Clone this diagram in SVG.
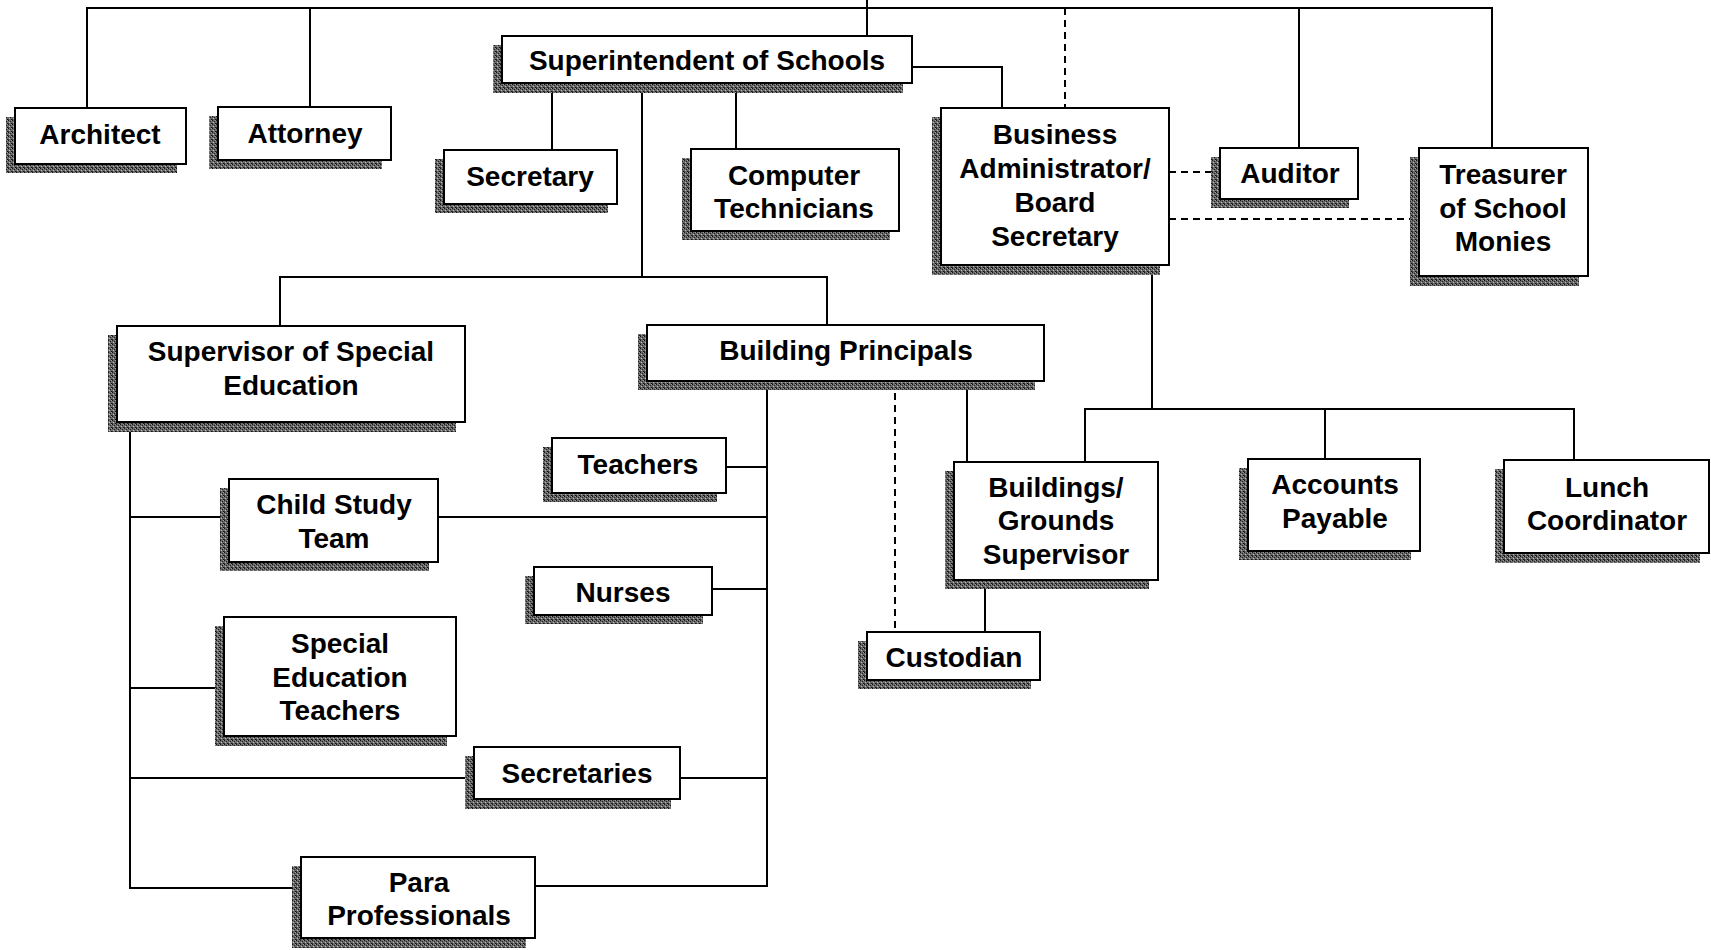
<svg xmlns="http://www.w3.org/2000/svg" width="1711" height="950" viewBox="0 0 1711 950">
  <defs>
    <!-- stippled grey used for the drop shadows behind each box -->
    <pattern id="grain" patternUnits="userSpaceOnUse" width="4" height="4">
      <rect width="4" height="4" fill="#6a6a6a"/>
      <rect x="0" y="0" width="1" height="1" fill="#111"/>
      <rect x="2" y="1" width="1" height="1" fill="#222"/>
      <rect x="1" y="2" width="1" height="1" fill="#bbb"/>
      <rect x="3" y="3" width="1" height="1" fill="#111"/>
      <rect x="3" y="0" width="1" height="1" fill="#999"/>
      <rect x="0" y="3" width="1" height="1" fill="#333"/>
    </pattern>
  </defs>
  <style>
    .wire { stroke: #000; stroke-width: 2; fill: none; }
    .dash { stroke-dasharray: 7 5; }
    .shadow { fill: url(#grain); }
    .box { fill: #fff; stroke: #000; stroke-width: 2; }
    .label { font-family: "Liberation Sans", Arial, sans-serif; font-weight: bold; font-size: 28px; text-anchor: middle; fill: #000; }
  </style>
  <rect width="1711" height="950" fill="#fff"/>

  <!-- reporting lines -->
  <g id="connectors">
    <path class="wire" d="M87 108 V8 H1492 V148"/>
    <path class="wire" d="M310 8 V107"/>
    <path class="wire" d="M867 0 V36"/>
    <path class="wire" d="M1299 8 V148"/>
    <path class="wire dash" d="M1065 8 V108"/>
    <path class="wire" d="M912 67 H1002 V108"/>
    <path class="wire" d="M552 83 V150"/>
    <path class="wire" d="M736 83 V149"/>
    <path class="wire" d="M642 83 V277"/>
    <path class="wire" d="M280 326 V277 H827 V325"/>
    <path class="wire dash" d="M1169 172 H1219"/>
    <path class="wire dash" d="M1169 219 H1412"/>
    <path class="wire" d="M1152 265 V409"/>
    <path class="wire" d="M1085 462 V409 H1574 V460"/>
    <path class="wire" d="M1325 409 V459"/>
    <path class="wire" d="M130 422 V888 H301"/>
    <path class="wire" d="M130 517 H229"/>
    <path class="wire" d="M438 517 H767"/>
    <path class="wire" d="M130 688 H224"/>
    <path class="wire" d="M130 778 H474"/>
    <path class="wire" d="M680 778 H767"/>
    <path class="wire" d="M535 886 H767 V381"/>
    <path class="wire" d="M726 467 H767"/>
    <path class="wire" d="M712 589 H767"/>
    <path class="wire" d="M967 381 V462"/>
    <path class="wire dash" d="M895 381 V632"/>
    <path class="wire" d="M985 580 V632"/>
  </g>

  <g id="architect">
    <rect class="shadow" x="6" y="117" width="171" height="56"/>
    <rect class="box" x="15" y="108" width="171" height="56"/>
    <text class="label" x="100" y="144">Architect</text>
  </g>
  <g id="attorney">
    <rect class="shadow" x="209" y="116" width="173" height="53"/>
    <rect class="box" x="218" y="107" width="173" height="53"/>
    <text class="label" x="305" y="143">Attorney</text>
  </g>
  <g id="superintendent">
    <rect class="shadow" x="493" y="45" width="410" height="48"/>
    <rect class="box" x="502" y="36" width="410" height="47"/>
    <text class="label" x="707" y="70">Superintendent of Schools</text>
  </g>
  <g id="secretary">
    <rect class="shadow" x="435" y="159" width="173" height="54"/>
    <rect class="box" x="444" y="150" width="173" height="54"/>
    <text class="label" x="530" y="186">Secretary</text>
  </g>
  <g id="computer-technicians">
    <rect class="shadow" x="682" y="158" width="208" height="82"/>
    <rect class="box" x="691" y="149" width="208" height="82"/>
    <text class="label" x="794" y="185">Computer</text>
    <text class="label" x="794" y="218">Technicians</text>
  </g>
  <g id="business-administrator">
    <rect class="shadow" x="932" y="117" width="228" height="158"/>
    <rect class="box" x="941" y="108" width="228" height="157"/>
    <text class="label" x="1055" y="144">Business</text>
    <text class="label" x="1055" y="178">Administrator/</text>
    <text class="label" x="1055" y="212">Board</text>
    <text class="label" x="1055" y="246">Secretary</text>
  </g>
  <g id="auditor">
    <rect class="shadow" x="1211" y="157" width="138" height="51"/>
    <rect class="box" x="1220" y="148" width="138" height="51"/>
    <text class="label" x="1290" y="183">Auditor</text>
  </g>
  <g id="treasurer">
    <rect class="shadow" x="1410" y="157" width="169" height="129"/>
    <rect class="box" x="1419" y="148" width="169" height="128"/>
    <text class="label" x="1503" y="184">Treasurer</text>
    <text class="label" x="1503" y="218">of School</text>
    <text class="label" x="1503" y="251">Monies</text>
  </g>
  <g id="supervisor-special-education">
    <rect class="shadow" x="108" y="335" width="348" height="97"/>
    <rect class="box" x="117" y="326" width="348" height="96"/>
    <text class="label" x="291" y="361">Supervisor of Special</text>
    <text class="label" x="291" y="395">Education</text>
  </g>
  <g id="building-principals">
    <rect class="shadow" x="638" y="334" width="397" height="56"/>
    <rect class="box" x="647" y="325" width="397" height="56"/>
    <text class="label" x="846" y="360">Building Principals</text>
  </g>
  <g id="teachers">
    <rect class="shadow" x="543" y="447" width="174" height="55"/>
    <rect class="box" x="552" y="438" width="174" height="55"/>
    <text class="label" x="638" y="474">Teachers</text>
  </g>
  <g id="child-study-team">
    <rect class="shadow" x="220" y="488" width="209" height="83"/>
    <rect class="box" x="229" y="479" width="209" height="83"/>
    <text class="label" x="334" y="514">Child Study</text>
    <text class="label" x="334" y="548">Team</text>
  </g>
  <g id="nurses">
    <rect class="shadow" x="525" y="576" width="178" height="48"/>
    <rect class="box" x="534" y="567" width="178" height="48"/>
    <text class="label" x="623" y="602">Nurses</text>
  </g>
  <g id="special-education-teachers">
    <rect class="shadow" x="215" y="626" width="232" height="120"/>
    <rect class="box" x="224" y="617" width="232" height="119"/>
    <text class="label" x="340" y="653">Special</text>
    <text class="label" x="340" y="687">Education</text>
    <text class="label" x="340" y="720">Teachers</text>
  </g>
  <g id="secretaries">
    <rect class="shadow" x="465" y="756" width="206" height="53"/>
    <rect class="box" x="474" y="747" width="206" height="52"/>
    <text class="label" x="577" y="783">Secretaries</text>
  </g>
  <g id="para-professionals">
    <rect class="shadow" x="292" y="866" width="234" height="82"/>
    <rect class="box" x="301" y="857" width="234" height="81"/>
    <text class="label" x="419" y="892">Para</text>
    <text class="label" x="419" y="925">Professionals</text>
  </g>
  <g id="buildings-grounds-supervisor">
    <rect class="shadow" x="945" y="471" width="204" height="118"/>
    <rect class="box" x="954" y="462" width="204" height="118"/>
    <text class="label" x="1056" y="497">Buildings/</text>
    <text class="label" x="1056" y="530">Grounds</text>
    <text class="label" x="1056" y="564">Supervisor</text>
  </g>
  <g id="custodian">
    <rect class="shadow" x="858" y="641" width="173" height="48"/>
    <rect class="box" x="867" y="632" width="173" height="48"/>
    <text class="label" x="954" y="667">Custodian</text>
  </g>
  <g id="accounts-payable">
    <rect class="shadow" x="1239" y="468" width="172" height="92"/>
    <rect class="box" x="1248" y="459" width="172" height="92"/>
    <text class="label" x="1335" y="494">Accounts</text>
    <text class="label" x="1335" y="528">Payable</text>
  </g>
  <g id="lunch-coordinator">
    <rect class="shadow" x="1495" y="469" width="205" height="94"/>
    <rect class="box" x="1504" y="460" width="205" height="93"/>
    <text class="label" x="1607" y="497">Lunch</text>
    <text class="label" x="1607" y="530">Coordinator</text>
  </g>
</svg>
